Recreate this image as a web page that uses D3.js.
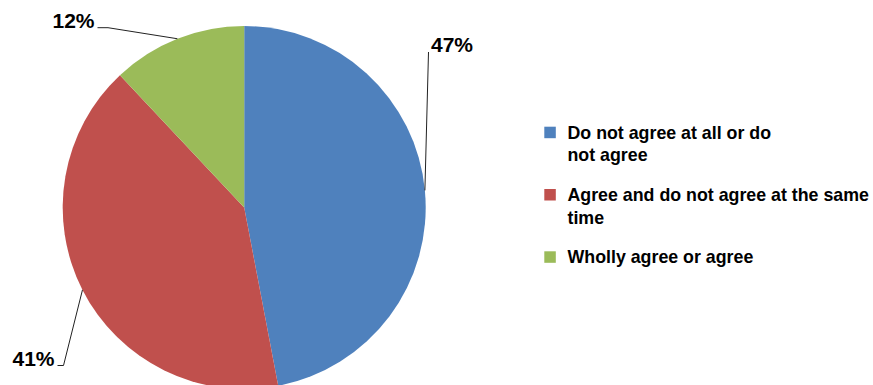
<!DOCTYPE html>
<html>
<head>
<meta charset="utf-8">
<script src="https://cdn.jsdelivr.net/npm/d3@7"></script>
<style>
  html, body { margin: 0; padding: 0; background: #fff; }
  svg { display: block; }
  text { font-family: "Liberation Sans", Arial, sans-serif; font-weight: bold; fill: #000; }
</style>
</head>
<body>
<svg id="chart" width="873" height="385"></svg>
<script>
// ---- data ----
const categories = [
  "Do not agree at all or do not agree",
  "Agree and do not agree at the same time",
  "Wholly agree or agree"
];
const values = [47, 41, 12];
const colors = ["#4F81BD", "#C0504D", "#9BBB59"];
const legendLines = [
  ["Do not agree at all or do", "not agree"],
  ["Agree and do not agree at the same", "time"],
  ["Wholly agree or agree"]
];

// ---- layout ----
const cx = 244.2, cy = 207.5, R = 181.5;
const labelLayout = [
  { elbow: [428.5, 52], end: [428.5, 52], tx: 431, ty: 51.5, anchor: "start" },
  { elbow: [63.5, 365.5], end: [57.5, 365.5], tx: 54.5, ty: 365.5, anchor: "end" },
  { elbow: [108, 27.7], end: [97.5, 27.7], tx: 94.5, ty: 28, anchor: "end" }
];

const svg = d3.select("#chart");
const g = svg.append("g").attr("transform", `translate(${cx},${cy})`);

const pie = d3.pie().sort(null).value(d => d)(values);
const arc = d3.arc().innerRadius(0).outerRadius(R);

g.selectAll("path.slice")
  .data(pie)
  .join("path")
  .attr("class", "slice")
  .attr("d", arc)
  .attr("fill", (d, i) => colors[i]);

const total = d3.sum(values);
pie.forEach((d, i) => {
  const a = (d.startAngle + d.endAngle) / 2;
  const px = cx + R * Math.sin(a);
  const py = cy - R * Math.cos(a);
  const L = labelLayout[i];
  svg.append("polyline")
    .attr("points", [[px, py], L.elbow, L.end].map(p => p.join(",")).join(" "))
    .attr("fill", "none")
    .attr("stroke", "#222")
    .attr("stroke-width", 1);
  svg.append("text")
    .attr("x", L.tx)
    .attr("y", L.ty)
    .attr("text-anchor", L.anchor)
    .style("font-size", "21px")
    .text(Math.round(values[i] / total * 100) + "%");
});

// legend
const legendX = 544.3, textX = 567.5;
const firstBaselines = [138.7, 201, 263.3];
const lineH = 22.6;
categories.forEach((c, i) => {
  const by = firstBaselines[i];
  svg.append("rect")
    .attr("x", legendX)
    .attr("y", by - 12)
    .attr("width", 11.5)
    .attr("height", 11.5)
    .attr("fill", colors[i]);
  const t = svg.append("text")
    .attr("x", textX)
    .attr("y", by)
    .style("font-size", "17.8px");
  legendLines[i].forEach((ln, j) => {
    t.append("tspan")
      .attr("x", textX)
      .attr("y", by + j * lineH)
      .text(ln);
  });
});
</script>
</body>
</html>
